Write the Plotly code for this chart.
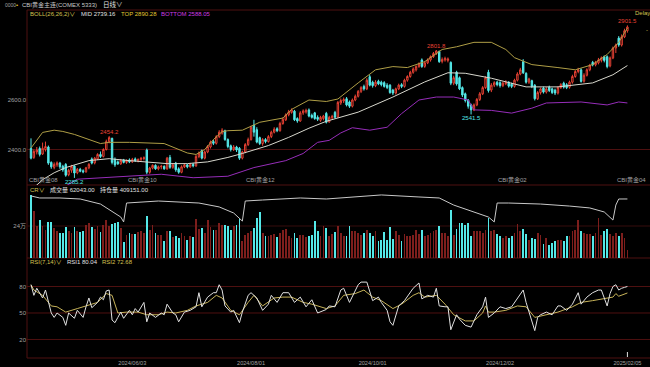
import plotly.graph_objects as go

W, H = 650, 367

# ---------------- data ----------------
OPEN = [
    2404, 2368, 2390, 2404, 2382, 2400, 2410, 2348, 2328, 2338,
    2345, 2332, 2340, 2298, 2316, 2333, 2306, 2320, 2314, 2310,
    2326, 2362, 2346, 2362, 2380, 2372, 2400, 2432, 2445, 2360,
    2350, 2342, 2358, 2348, 2358, 2350, 2362, 2354, 2360, 2364,
    2398, 2308, 2325, 2336, 2322, 2330, 2332, 2322, 2368, 2328,
    2345, 2322, 2308, 2330, 2338, 2330, 2340, 2334, 2372, 2396,
    2365, 2390, 2410, 2432, 2425, 2452, 2466, 2476, 2440, 2415,
    2400, 2410, 2405, 2365, 2390, 2420, 2440, 2498, 2480, 2448,
    2424, 2440, 2432, 2452, 2470, 2484, 2476, 2505, 2520, 2540,
    2550, 2555, 2525, 2515, 2548, 2552, 2560, 2538, 2548, 2530,
    2518, 2525, 2546, 2512, 2528, 2550, 2532, 2588, 2596, 2605,
    2592, 2575, 2600, 2615, 2635, 2655, 2645, 2694, 2672, 2658,
    2676, 2672, 2670, 2660, 2660, 2640, 2628, 2645, 2662, 2655,
    2680, 2695, 2712, 2722, 2735, 2762, 2736, 2750, 2762, 2775,
    2788, 2796, 2756, 2762, 2760, 2752, 2668, 2712, 2690, 2650,
    2625, 2600, 2580, 2560, 2580, 2602, 2625, 2650, 2712, 2640,
    2660, 2672, 2670, 2658, 2666, 2672, 2664, 2655, 2680, 2705,
    2755, 2708, 2672, 2678, 2660, 2605, 2630, 2648, 2632, 2652,
    2645, 2640, 2628, 2650, 2668, 2662, 2652, 2672, 2695, 2715,
    2722, 2676, 2700, 2722, 2752, 2742, 2750, 2760, 2775, 2775,
    2738, 2770, 2810, 2850, 2822, 2855, 2880,
]
HIGH = [
    2445, 2400, 2410, 2412, 2428, 2432, 2416, 2352, 2348, 2352,
    2350, 2338, 2345, 2322, 2338, 2336, 2325, 2326, 2320, 2330,
    2345, 2368, 2370, 2385, 2392, 2405, 2440, 2454.2, 2448, 2368,
    2356, 2362, 2362, 2360, 2364, 2366, 2368, 2364, 2370, 2372,
    2404, 2330, 2340, 2340, 2335, 2338, 2336, 2370, 2378, 2345,
    2350, 2328, 2336, 2344, 2342, 2346, 2346, 2378, 2392, 2400,
    2396, 2418, 2436, 2440, 2458, 2478, 2486, 2480, 2445, 2420,
    2418, 2415, 2410, 2395, 2426, 2448, 2496, 2520, 2490, 2452,
    2446, 2446, 2458, 2476, 2490, 2490, 2512, 2530, 2546, 2560,
    2566, 2560, 2530, 2555, 2562, 2565, 2566, 2545, 2552, 2538,
    2536, 2540, 2552, 2536, 2540, 2556, 2596, 2606, 2610, 2612,
    2598, 2606, 2622, 2640, 2656, 2662, 2688, 2702, 2678, 2680,
    2682, 2678, 2676, 2668, 2664, 2645, 2650, 2666, 2668, 2686,
    2700, 2718, 2732, 2740, 2752, 2768, 2756, 2768, 2780, 2794,
    2801.8, 2800, 2772, 2775, 2772, 2756, 2698, 2718, 2695, 2655,
    2630, 2604, 2585, 2586, 2608, 2632, 2656, 2696, 2722, 2668,
    2676, 2678, 2676, 2674, 2680, 2676, 2670, 2686, 2712, 2730,
    2765, 2712, 2690, 2682, 2664, 2636, 2650, 2654, 2652, 2658,
    2650, 2646, 2656, 2668, 2674, 2668, 2678, 2702, 2720, 2730,
    2728, 2708, 2728, 2746, 2758, 2758, 2770, 2776, 2780, 2780,
    2776, 2816, 2828, 2858, 2865, 2888, 2901.5,
]
LOW = [
    2360, 2362, 2380, 2372, 2378, 2392, 2338, 2322, 2320, 2330,
    2322, 2310, 2290, 2292, 2306, 2285.2, 2300, 2308, 2304, 2306,
    2320, 2340, 2340, 2358, 2366, 2368, 2396, 2425, 2340, 2330,
    2338, 2338, 2344, 2342, 2345, 2346, 2350, 2348, 2352, 2356,
    2300, 2302, 2320, 2318, 2316, 2320, 2318, 2318, 2322, 2322,
    2310, 2302, 2304, 2325, 2324, 2326, 2328, 2330, 2365, 2360,
    2360, 2385, 2404, 2418, 2420, 2446, 2460, 2435, 2405, 2392,
    2394, 2390, 2358, 2360, 2385, 2414, 2436, 2452, 2425, 2418,
    2415, 2425, 2428, 2446, 2465, 2470, 2472, 2500, 2515, 2534,
    2545, 2515, 2508, 2512, 2540, 2545, 2530, 2525, 2520, 2515,
    2512, 2518, 2505, 2508, 2520, 2525, 2528, 2580, 2588, 2574,
    2568, 2570, 2595, 2610, 2628, 2638, 2640, 2655, 2650, 2652,
    2660, 2655, 2650, 2644, 2625, 2620, 2622, 2640, 2648, 2650,
    2674, 2690, 2706, 2715, 2730, 2730, 2730, 2745, 2755, 2770,
    2782, 2750, 2748, 2755, 2752, 2660, 2660, 2658, 2640, 2612,
    2590, 2565, 2541.5, 2555, 2575, 2596, 2620, 2645, 2630, 2632,
    2652, 2655, 2650, 2652, 2660, 2650, 2648, 2650, 2675, 2700,
    2705, 2666, 2665, 2648, 2598, 2600, 2622, 2626, 2626, 2632,
    2624, 2620, 2622, 2645, 2646, 2644, 2646, 2666, 2690, 2708,
    2670, 2670, 2695, 2716, 2736, 2736, 2744, 2752, 2752, 2728,
    2732, 2765, 2790, 2815, 2816, 2850, 2872,
]
CLOSE = [
    2365, 2392, 2398, 2380, 2405, 2412, 2345, 2330, 2340, 2346,
    2330, 2318, 2296, 2316, 2332, 2305, 2320, 2312, 2310, 2326,
    2340, 2345, 2365, 2380, 2372, 2400, 2432, 2448, 2348, 2338,
    2342, 2356, 2348, 2356, 2350, 2360, 2354, 2360, 2364, 2366,
    2308, 2325, 2336, 2322, 2330, 2332, 2322, 2365, 2328, 2338,
    2318, 2308, 2330, 2338, 2330, 2340, 2334, 2372, 2385, 2365,
    2390, 2412, 2430, 2425, 2452, 2470, 2478, 2440, 2412, 2400,
    2410, 2398, 2365, 2390, 2420, 2440, 2490, 2470, 2430, 2424,
    2440, 2432, 2452, 2470, 2482, 2476, 2505, 2522, 2540, 2552,
    2560, 2520, 2515, 2548, 2556, 2558, 2535, 2530, 2525, 2522,
    2530, 2535, 2510, 2530, 2534, 2530, 2590, 2598, 2602, 2580,
    2575, 2600, 2615, 2635, 2650, 2645, 2680, 2660, 2658, 2672,
    2665, 2662, 2655, 2650, 2630, 2628, 2645, 2660, 2655, 2680,
    2695, 2712, 2725, 2735, 2745, 2735, 2750, 2762, 2775, 2788,
    2798, 2755, 2764, 2768, 2766, 2668, 2690, 2665, 2645, 2620,
    2598, 2575, 2560, 2580, 2602, 2625, 2650, 2690, 2638, 2660,
    2670, 2662, 2658, 2668, 2672, 2656, 2655, 2680, 2705, 2722,
    2710, 2672, 2685, 2655, 2605, 2630, 2645, 2632, 2645, 2638,
    2630, 2628, 2650, 2662, 2652, 2650, 2672, 2695, 2715, 2722,
    2675, 2700, 2722, 2740, 2742, 2752, 2762, 2770, 2760, 2735,
    2770, 2810, 2822, 2822, 2855, 2880, 2895,
]
# volume in thousands of lots
VOLUME_K = [
    475, 350, 240, 287, 237, 210, 267, 270, 225, 200,
    190, 187, 230, 200, 187, 232, 205, 195, 200, 250,
    262, 230, 215, 237, 192, 250, 287, 240, 255, 262,
    270, 225, 120, 170, 187, 180, 180, 195, 200, 190,
    312, 212, 250, 187, 175, 175, 130, 200, 200, 160,
    162, 150, 187, 162, 137, 162, 155, 292, 220, 225,
    187, 287, 230, 212, 212, 262, 250, 250, 242, 212,
    237, 250, 292, 130, 175, 190, 200, 225, 300, 345,
    187, 162, 162, 170, 180, 157, 190, 212, 217, 162,
    150, 187, 150, 175, 170, 160, 162, 170, 275, 200,
    165, 237, 225, 162, 180, 195, 237, 190, 162, 162,
    237, 200, 200, 190, 175, 187, 212, 187, 162, 200,
    125, 137, 192, 137, 230, 142, 200, 175, 125, 180,
    162, 162, 175, 212, 180, 212, 162, 175, 187, 200,
    212, 237, 187, 187, 162, 362, 175, 217, 262, 262,
    250, 262, 167, 200, 200, 200, 187, 212, 300, 200,
    212, 180, 162, 150, 162, 150, 167, 187, 257, 200,
    217, 182, 137, 150, 145, 187, 175, 107, 150, 100,
    112, 130, 137, 137, 125, 167, 162, 200, 210, 282,
    200, 187, 180, 182, 162, 190, 300, 175, 200, 217,
    180, 162, 187, 162, 187, 150, 62.043,
]
# open interest (thousands), read at (bar index, value)
OI_POINTS = [
    (0, 430), (3, 416), (10, 416), (17, 409), (24, 374), (28, 326), (31, 284), (32, 250),
    (33, 381), (44, 395), (58, 381), (65, 354), (70, 312), (73, 256), (74, 395), (80, 402),
    (93, 416), (102, 409), (111, 423), (121, 437), (134, 423), (141, 416), (146, 367),
    (153, 319), (158, 284), (160, 250), (161, 381), (165, 381), (176, 374), (186, 360),
    (193, 347), (198, 319), (200, 284), (201, 263), (202, 367), (203, 409), (206, 409.151),
]
BOLL_TOP = [
    (0, 2406), (4, 2469), (8, 2478), (11, 2473), (15, 2461), (19, 2445), (24, 2424), (27, 2429),
    (34, 2429), (46, 2424), (50, 2404), (54, 2386), (57, 2380), (60, 2400), (63, 2440),
    (66, 2472), (68, 2476), (73, 2478), (79, 2510), (87, 2527), (90, 2562), (96, 2600),
    (102, 2594), (106, 2604), (113, 2669), (119, 2722), (125, 2735), (130, 2731), (136, 2755),
    (142, 2804), (147, 2815), (153, 2833), (159, 2833), (164, 2804), (167, 2771), (173, 2743),
    (182, 2731), (188, 2722), (194, 2743), (199, 2784), (203, 2833), (206, 2890.28),
]
BOLL_MID = [
    (0, 2235), (4, 2278), (8, 2306), (12, 2327), (20, 2355), (27, 2363), (34, 2355), (47, 2343),
    (54, 2343), (61, 2350), (68, 2368), (73, 2384), (82, 2416), (89, 2449), (96, 2486),
    (102, 2514), (113, 2551), (125, 2612), (136, 2673), (144, 2710), (150, 2708), (159, 2688),
    (171, 2653), (182, 2653), (194, 2669), (201, 2702), (206, 2739.16),
]
BOLL_BOT = [
    (0, 2160), (8, 2225), (16, 2280), (30, 2290), (45, 2300), (56, 2286), (68, 2292), (77, 2327),
    (88, 2355), (94, 2384), (99, 2429), (103, 2437), (107, 2467), (111, 2488), (117, 2478),
    (123, 2490), (128, 2545), (134, 2600), (140, 2612), (146, 2612), (151, 2600), (153, 2560),
    (159, 2558), (166, 2547), (173, 2567), (178, 2588), (190, 2592), (199, 2580), (203, 2592),
    (206, 2588.05),
]
RSI1_POINTS = [
    (0, 82), (1, 70), (2, 78), (4, 67), (5, 76), (7, 50), (8, 45), (9, 50), (11, 45), (12, 36),
    (13, 50), (15, 44), (16, 53), (18, 45), (19, 57), (20, 67), (21, 56), (23, 62), (24, 68),
    (25, 65), (26, 75), (27, 76), (28, 42), (29, 39), (30, 45), (31, 51), (32, 44), (34, 53),
    (35, 48), (36, 55), (37, 51), (39, 62), (40, 40), (41, 50), (43, 45), (45, 50), (46, 48),
    (47, 60), (49, 50), (50, 48), (51, 40), (53, 51), (55, 53), (57, 57), (58, 73), (59, 57),
    (61, 68), (63, 73), (64, 73), (65, 82), (66, 76), (67, 58), (69, 51), (70, 53), (72, 39),
    (73, 51), (75, 70), (76, 73), (78, 67), (80, 53), (82, 60), (83, 70), (85, 62), (87, 73),
    (89, 73), (91, 62), (93, 68), (95, 57), (97, 65), (99, 50), (102, 54), (103, 58), (105, 57),
    (107, 76), (108, 78), (110, 62), (113, 82), (114, 85), (116, 85), (118, 64), (120, 68),
    (121, 62), (123, 53), (124, 40), (125, 36), (127, 58), (129, 64), (132, 78), (134, 84),
    (135, 66), (137, 70), (139, 68), (140, 78), (141, 58), (143, 57), (144, 57), (145, 31),
    (147, 48), (148, 43), (150, 36), (152, 34), (154, 48), (156, 57), (157, 68), (158, 45),
    (160, 50), (162, 57), (164, 55), (166, 57), (168, 66), (170, 76), (171, 62), (172, 51),
    (174, 30), (175, 45), (176, 48), (178, 51), (180, 48), (182, 58), (183, 58), (185, 53),
    (187, 60), (189, 73), (190, 60), (192, 68), (194, 73), (196, 76), (197, 76), (199, 58),
    (200, 72), (201, 80), (202, 82), (203, 76), (204, 78), (205, 79), (206, 80.04),
]
RSI2_POINTS = [
    (0, 82), (1, 76), (4, 70), (7, 58), (9, 57), (12, 51), (16, 55), (19, 58), (23, 62), (26, 72),
    (28, 70), (30, 50), (33, 51), (37, 51), (40, 48), (44, 48), (47, 51), (50, 50), (54, 53),
    (57, 58), (61, 62), (64, 70), (66, 67), (69, 53), (72, 48), (75, 62), (77, 70), (80, 58),
    (84, 67), (87, 68), (90, 68), (94, 62), (97, 60), (102, 55), (105, 58), (108, 70), (112, 72),
    (115, 76), (118, 68), (121, 64), (125, 55), (128, 60), (132, 70), (134, 73), (136, 68),
    (140, 70), (143, 60), (146, 48), (150, 41), (153, 41), (156, 50), (157, 58), (158, 51),
    (160, 51), (164, 53), (168, 58), (171, 57), (174, 45), (178, 48), (182, 51), (187, 57),
    (190, 62), (194, 64), (197, 66), (201, 68), (202, 72), (203, 69), (206, 72.68),
]
DATE_TICK_IDX = [35, 76, 118, 162, 206]
DATE_TICK_TEXT = ["2024/06/03", "2024/08/01", "2024/10/01", "2024/12/02", "2025/02/05"]
ROLL_IDX = [-1, 33, 74, 161, 202]
ROLL_TEXT = ["CBI黄金08", "CBI黄金10", "CBI黄金12", "CBI黄金02", "CBI黄金04"]
PEAK_IDX = [27, 140, 206]
TROUGH_IDX = [15, 152]
PRICE_TICKS = [2400, 2600]
VOL_TICKS = [240000]
VOL_TICK_TEXT = ["24万"]
RSI_TICKS = [20, 50, 80]

# ---------------- styling ----------------
RED = "rgb(232,66,52)"
CYAN = "rgb(84,232,232)"
VOL_RED = "rgb(125,30,28)"
GRID = "rgb(78,16,16)"
GREY = "rgb(160,160,160)"
WHITE = "rgb(225,225,225)"
YEL = "rgb(212,192,80)"
PURPLE = "rgb(150,45,185)"
FONT = "Liberation Sans, Noto Sans CJK SC, sans-serif"


def px(x):
    return x / W


def py(y):
    return 1 - y / H


X = list(range(len(CLOSE)))
VOLUME = [v * 1000 for v in VOLUME_K]
X_DOM = [px(27), 1]
X_RANGE = [-1.38, 213.8]
MAIN_DOM = [py(185), py(10)]
VOL_DOM = [py(258), py(185)]
RSI_DOM = [py(358), py(258)]


def split(points, scale=1.0):
    return [p[0] for p in points], [p[1] * scale for p in points]


fig = go.Figure()

fig.add_trace(go.Candlestick(
    x=X, open=OPEN, high=HIGH, low=LOW, close=CLOSE, xaxis="x", yaxis="y",
    increasing=dict(line=dict(color=RED, width=1), fillcolor="rgba(0,0,0,1)"),
    decreasing=dict(line=dict(color=CYAN, width=1), fillcolor=CYAN),
    whiskerwidth=0, showlegend=False, hoverinfo="skip"))

for pts, col in [(BOLL_TOP, "rgb(175,158,70)"), (BOLL_MID, "rgb(215,215,205)"), (BOLL_BOT, PURPLE)]:
    xs, ys = split(pts)
    fig.add_trace(go.Scatter(x=xs, y=ys, mode="lines", line=dict(color=col, width=1),
                             xaxis="x", yaxis="y", showlegend=False, hoverinfo="skip"))

vol_colors = [VOL_RED if c >= o else CYAN for o, c in zip(OPEN, CLOSE)]
fig.add_trace(go.Bar(x=X, y=VOLUME, marker=dict(color=vol_colors, line=dict(width=0)),
                     width=0.62, xaxis="x2", yaxis="y2", showlegend=False, hoverinfo="skip"))

oi_x, oi_y = split(OI_POINTS, 1000)
fig.add_trace(go.Scatter(x=oi_x, y=oi_y, mode="lines", line=dict(color="rgb(200,200,200)", width=1),
                         xaxis="x2", yaxis="y4", showlegend=False, hoverinfo="skip"))

for pts, col in [(RSI2_POINTS, "rgb(200,180,90)"), (RSI1_POINTS, "rgb(225,225,225)")]:
    xs, ys = split(pts)
    fig.add_trace(go.Scatter(x=xs, y=ys, mode="lines", line=dict(color=col, width=1),
                             xaxis="x3", yaxis="y3", showlegend=False, hoverinfo="skip"))

common_x = dict(domain=X_DOM, range=X_RANGE, showgrid=False, zeroline=False, showline=False,
                ticks="", fixedrange=True)
tickfont = dict(family=FONT, size=6, color=GREY)
common_y = dict(showgrid=False, zeroline=False, showline=False, ticks="", tickfont=tickfont,
                fixedrange=True)

fig.update_layout(
    width=W, height=H, margin=dict(l=0, r=0, t=0, b=0),
    paper_bgcolor="black", plot_bgcolor="rgba(0,0,0,0)",
    showlegend=False, bargap=0,
    xaxis=dict(common_x, anchor="y", showticklabels=False, rangeslider=dict(visible=False)),
    xaxis2=dict(common_x, anchor="y2", showticklabels=False),
    xaxis3=dict(common_x, anchor="y3", showticklabels=True, tickvals=DATE_TICK_IDX,
                ticktext=DATE_TICK_TEXT, tickfont=dict(family=FONT, size=5.6, color=GREY)),
    yaxis=dict(common_y, domain=MAIN_DOM, anchor="x", range=[2256.6, 2963.6],
               tickvals=PRICE_TICKS, ticktext=[f"{v:.1f}" for v in PRICE_TICKS]),
    yaxis2=dict(common_y, domain=VOL_DOM, anchor="x2", range=[0, 547500],
                tickvals=VOL_TICKS, ticktext=VOL_TICK_TEXT),
    yaxis4=dict(overlaying="y2", anchor="x2", range=[0, 506000], visible=False, fixedrange=True),
    yaxis3=dict(common_y, domain=RSI_DOM, anchor="x3", range=[-1, 112.3], tickvals=RSI_TICKS),
)

shapes = []
for ypx in [10, 185, 258, 358]:
    shapes.append(dict(type="line", xref="paper", yref="paper", x0=px(27), x1=1,
                       y0=py(ypx), y1=py(ypx), line=dict(color=GRID, width=1), layer="below"))
shapes.append(dict(type="line", xref="paper", yref="paper", x0=px(27), x1=px(27),
                   y0=py(358), y1=py(10), line=dict(color=GRID, width=1), layer="below"))
shapes.append(dict(type="line", xref="paper", yref="y", x0=px(27), x1=1, y0=2400, y1=2400,
                   line=dict(color=GRID, width=1), layer="below"))
shapes.append(dict(type="line", xref="paper", yref="y2", x0=px(27), x1=1, y0=240000, y1=240000,
                   line=dict(color="rgb(55,12,12)", width=1), layer="below"))
for v in RSI_TICKS:
    shapes.append(dict(type="line", xref="paper", yref="y3", x0=px(27), x1=1, y0=v, y1=v,
                       line=dict(color=GRID, width=1), layer="below"))
shapes.append(dict(type="line", xref="x3", yref="paper", x0=DATE_TICK_IDX[-1], x1=DATE_TICK_IDX[-1],
                   y0=py(357), y1=py(352), line=dict(color=WHITE, width=1)))
fig.update_layout(shapes=shapes)

ann = []


def text(t, xpx, ypx, color, size=6, anchor="left"):
    ann.append(dict(text=t, x=px(xpx), y=py(ypx), xref="paper", yref="paper",
                    xanchor=anchor, yanchor="middle", showarrow=False,
                    font=dict(family=FONT, size=size, color=color), borderpad=0))


text("0000", 4, 5, GREY, 5)
text("•", 15, 5, "rgb(230,200,40)", 6)
text("CBI黄金主连(COMEX 5333)", 21, 5, "rgb(200,200,200)", 6)
text("日线∨", 102, 5, WHITE, 6.5)

mid_last = BOLL_MID[-1][1]
top_last = BOLL_TOP[-1][1]
bot_last = BOLL_BOT[-1][1]
text("BOLL(26,26,2)∨", 29, 14, YEL)
text(f"MID {mid_last:.2f}", 80, 14, WHITE)
text(f"TOP {top_last:.2f}", 120, 14, "rgb(225,200,50)")
text(f"BOTTOM {bot_last:.2f}", 160, 14, "rgb(205,60,225)")
text("Delay", 634, 13, YEL)
text("-", 645, 30, YEL)

text("CR∨", 29, 190, YEL)
text(f"成交量 {VOLUME[-1]:.2f}", 49, 190, WHITE)
text(f"持仓量 {OI_POINTS[-1][1] * 1000:.2f}", 99, 190, WHITE)

text("RSI(7,14)∨", 29, 262, YEL)
text(f"RSI1 {RSI1_POINTS[-1][1]:.2f}", 66, 262, WHITE)
text(f"RSI2 {RSI2_POINTS[-1][1]:.2f}", 101, 262, YEL)

for i in PEAK_IDX:
    ann.append(dict(text=f"{HIGH[i]:.1f}", x=i, y=HIGH[i], xref="x", yref="y", xanchor="center",
                    yanchor="bottom", showarrow=False, borderpad=0,
                    font=dict(family=FONT, size=6, color=RED)))
for i in TROUGH_IDX:
    ann.append(dict(text=f"{LOW[i]:.1f}", x=i, y=LOW[i], xref="x", yref="y", xanchor="center",
                    yanchor="top", showarrow=False, borderpad=0,
                    font=dict(family=FONT, size=6, color=CYAN)))
for i, t in zip(ROLL_IDX, ROLL_TEXT):
    ann.append(dict(text=t, x=i, y=MAIN_DOM[0], xref="x", yref="paper", xanchor="left",
                    yanchor="bottom", showarrow=False, borderpad=0,
                    font=dict(family=FONT, size=6, color=GREY)))

fig.update_layout(annotations=ann)

fig.write_html("out.html", config={"displayModeBar": False, "staticPlot": True},
               post_script="document.body.style.margin='0';document.body.style.background='black';")
